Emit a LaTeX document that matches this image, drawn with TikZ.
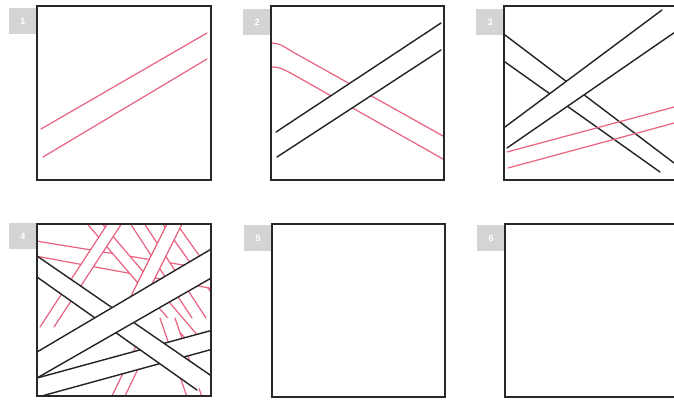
\documentclass[tikz,border=0pt]{standalone}
\usepackage{fontspec}
\setmainfont{Liberation Sans}
\definecolor{framec}{RGB}{40,40,40}
\definecolor{redc}{RGB}{232,98,128}
\definecolor{blkc}{RGB}{35,35,35}
\definecolor{labc}{RGB}{212,212,212}
\newcommand\bstrip[4]{\fill[white] #1 -- #2 -- #4 -- #3 -- cycle; \draw[blk] #1 -- #2 #3 -- #4;}
\newcommand\rstrip[4]{\fill[white] #1 -- #2 -- #4 -- #3 -- cycle; \draw[redl] #1 -- #2 #3 -- #4;}
\begin{document}
\begin{tikzpicture}[x=1pt,y=-1pt,
  framebox/.style={draw=framec, line width=1.9pt},
  redl/.style={draw=redc, line width=1.2pt, line cap=round},
  blk/.style={draw=blkc, line width=1.4pt, line cap=round},
  lab/.style={fill=labc, text=white, minimum width=28pt, minimum height=26pt, inner sep=0pt, font=\bfseries\small}]
\useasboundingbox (0,0) rectangle (674,400);
\fill[white] (0,0) rectangle (674,400);
% labels
\node[lab] (l1) at (23,21) {1};
\node[lab] (l2) at (257,22) {2};
\node[lab] (l3) at (490,22) {3};
\node[lab] (l4) at (23,236) {4};
\node[lab] (l5) at (258,238) {5};
\node[lab] (l6) at (491,238) {6};
% panel 1
\fill[white] (37,6) rectangle (211,180);
\draw[redl] (41,129) -- (207,33);
\draw[redl] (43,157) -- (207,59);
\draw[framebox] (37,6) rectangle (211,180);
% panel 2
\fill[white] (271,6) rectangle (444,180);
\begin{scope}
\clip (271,6) rectangle (444,180);
\draw[redl] (272,43) .. controls (280,44) .. (292,51.5) -- (443,136);
\draw[redl] (272,67) .. controls (280,67.5) .. (292,73.8) -- (443,159);
\bstrip{(276,132)}{(441,23)}{(277,157)}{(441,50)}
\end{scope}
\draw[framebox] (271,6) rectangle (444,180);
% panel 3
\fill[white] (504,6) rectangle (680,180);
\begin{scope}
\clip (504,6) rectangle (680,180);
\bstrip{(505,35)}{(678,166)}{(505,62)}{(660,172)}
\bstrip{(505,127)}{(662,10)}{(507,148)}{(678,30)}
\draw[redl] (507,152) -- (678,106);
\draw[redl] (508,168) -- (678,122);
\end{scope}
\draw[framebox] (504,6) rectangle (680,180);
% panel 4
\fill[white] (37,224) rectangle (211,396);
\begin{scope}
\clip (37,224) rectangle (211,396);
\rstrip{(160,220)}{(220,305)}{(174,220)}{(220,285)}
\rstrip{(30,240)}{(220,271)}{(30,255)}{(220,290)}
\rstrip{(84,220)}{(190,344)}{(99,220)}{(205,344)}
\rstrip{(128,220)}{(192,318)}{(142,220)}{(206,318)}
\rstrip{(110,220)}{(40,327)}{(124,220)}{(54,327)}
\rstrip{(169,220)}{(119,320)}{(184,220)}{(134,320)}
\rstrip{(140,338)}{(110,400)}{(153,338)}{(123,400)}
\rstrip{(160,318)}{(188,400)}{(175,318)}{(203,400)}
\end{scope}
\begin{scope}
\clip (37,224) rectangle (211,396);
\bstrip{(38,397)}{(213,349)}{(37,378)}{(213,330)}
\bstrip{(37,256)}{(213,377)}{(37,277)}{(197,390)}
\bstrip{(37,352)}{(213,248)}{(37,378)}{(213,277)}
\end{scope}
\draw[framebox] (37,224) rectangle (211,396);
% panel 5
\fill[white] (272,224) rectangle (445,397);
\draw[framebox] (272,224) rectangle (445,397);
% panel 6
\fill[white] (505,224) rectangle (680,397);
\draw[framebox] (505,224) rectangle (680,397);
\end{tikzpicture}
\end{document}
